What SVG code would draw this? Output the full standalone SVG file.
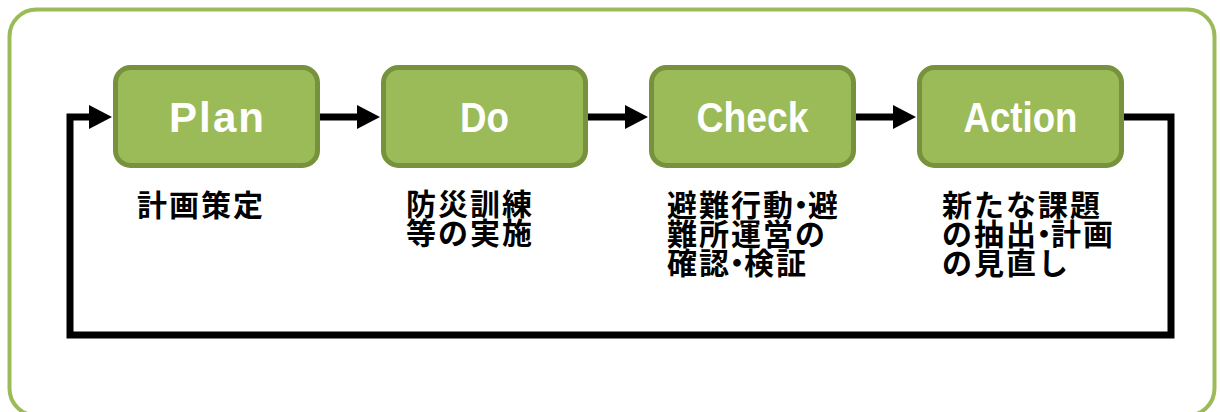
<svg xmlns="http://www.w3.org/2000/svg" width="1220" height="412" viewBox="0 0 1220 412">
<style>
.frame{fill:#ffffff;stroke:#9bbb59;stroke-width:4}
.box{fill:#9bbb59;stroke:#76923c;stroke-width:5}
.ttl{font-family:"Liberation Sans",Arial,sans-serif;font-weight:bold;font-size:42px;fill:#ffffff;text-anchor:middle}
.lbl{font-family:"Noto Sans CJK JP",sans-serif;font-weight:bold;font-size:30px;letter-spacing:2px;fill:#000000}
.conn{fill:none;stroke:#000000;stroke-width:7}
</style>
<defs>
<marker id="ah" markerUnits="userSpaceOnUse" markerWidth="24" markerHeight="26" viewBox="0 -12 24 24" refX="0" refY="0" orient="auto">
<path d="M0,-12 L23,0 L0,12 z" fill="#000000"/>
</marker>
</defs>
<rect class="frame" x="9.5" y="9.5" width="1205" height="406" rx="27"/>
<g id="connectors">
<path class="conn" d="M320,117 H357" marker-end="url(#ah)"/>
<path class="conn" d="M588,117 H625" marker-end="url(#ah)"/>
<path class="conn" d="M856,117 H893" marker-end="url(#ah)"/>
<path class="conn" d="M1124,117 H1171 V335 H70 V117 H89" marker-end="url(#ah)"/>
</g>
<g id="plan">
<rect class="box" x="115.5" y="67.5" width="202" height="98" rx="15"/>
<text class="ttl" x="216.5" y="132" textLength="95" lengthAdjust="spacing">Plan</text>
<text class="lbl" x="137" y="216">計画策定</text>
</g>
<g id="do">
<rect class="box" x="383.5" y="67.5" width="202" height="98" rx="15"/>
<text class="ttl" x="484.5" y="132" textLength="49" lengthAdjust="spacingAndGlyphs">Do</text>
<text class="lbl"><tspan x="406" y="215">防災訓練</tspan><tspan x="406" y="244">等の実施</tspan></text>
</g>
<g id="check">
<rect class="box" x="651.5" y="67.5" width="202" height="98" rx="15"/>
<text class="ttl" x="752.5" y="132" textLength="112" lengthAdjust="spacingAndGlyphs">Check</text>
<text class="lbl"><tspan x="667" y="216">避難行動</tspan><tspan dx="-9">・</tspan><tspan dx="-10">避</tspan><tspan x="667" y="245">難所運営の</tspan><tspan x="667" y="274">確認</tspan><tspan dx="-9">・</tspan><tspan dx="-10">検証</tspan></text>
</g>
<g id="action">
<rect class="box" x="919.5" y="67.5" width="202" height="98" rx="15"/>
<text class="ttl" x="1020.5" y="132" textLength="114" lengthAdjust="spacingAndGlyphs">Action</text>
<text class="lbl"><tspan x="942" y="216">新たな課題</tspan><tspan x="942" y="245">の抽出</tspan><tspan dx="-9">・</tspan><tspan dx="-10">計画</tspan><tspan x="942" y="274">の見直し</tspan></text>
</g>
</svg>
